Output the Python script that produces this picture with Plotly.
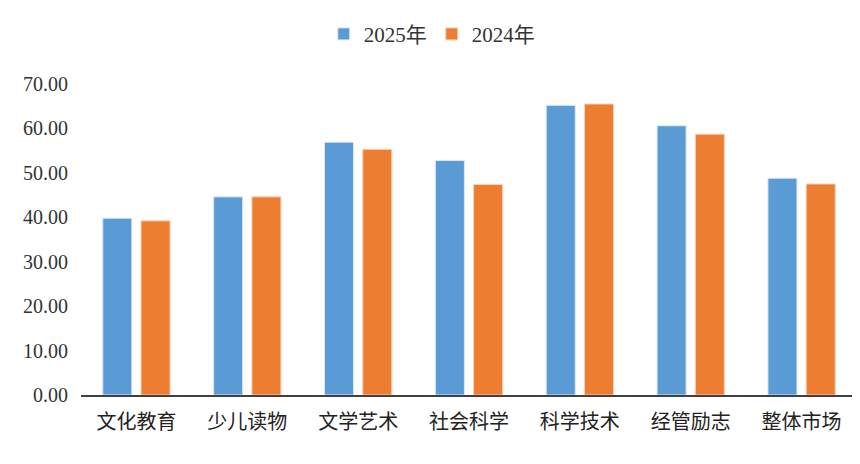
import plotly.graph_objects as go

categories = ["文化教育", "少儿读物", "文学艺术", "社会科学", "科学技术", "经管励志", "整体市场"]
values_2025 = [39.8, 44.6, 56.9, 52.8, 65.2, 60.6, 48.8]
values_2024 = [39.2, 44.6, 55.3, 47.4, 65.5, 58.7, 47.5]
tick_vals = [0, 10, 20, 30, 40, 50, 60, 70]
tick_text = ["0.00", "10.00", "20.00", "30.00", "40.00", "50.00", "60.00", "70.00"]

fig = go.Figure()
fig.add_trace(go.Bar(name="2025年", x=categories, y=values_2025,
                     marker=dict(color="#5B9BD5", line=dict(color="#DCE9F6", width=1))))
fig.add_trace(go.Bar(name="2024年", x=categories, y=values_2024,
                     marker=dict(color="#ED7D31", line=dict(color="#F8D3BB", width=1))))

fig.update_layout(
    width=860, height=464,
    margin=dict(l=73, r=11, t=76, b=77, autoexpand=False),
    paper_bgcolor="white", plot_bgcolor="white",
    barmode="group", bargap=0.31, bargroupgap=0.24,
    font=dict(family="Liberation Serif, Noto Sans CJK SC", color="#333333", size=20),
    legend=dict(orientation="h", x=0.452, xanchor="center", y=1.16, yanchor="middle",
                font=dict(size=21, family="Liberation Serif, Noto Sans CJK SC", color="#333333"),
                itemwidth=30, traceorder="normal"),
    showlegend=True,
)
fig.update_xaxes(showline=True, linecolor="#404040", linewidth=1.5, ticks="",
                 automargin=False, ticklabelstandoff=8,
                 tickfont=dict(family="Noto Sans CJK SC", size=20, color="#222222"))
fig.update_yaxes(range=[0, 70], showgrid=False, zeroline=False, showline=False,
                 automargin=False, ticklabelstandoff=12,
                 tickvals=tick_vals, ticktext=tick_text, ticks="",
                 tickfont=dict(family="Liberation Serif", size=20, color="#333333"))

fig.write_html("out.html")
